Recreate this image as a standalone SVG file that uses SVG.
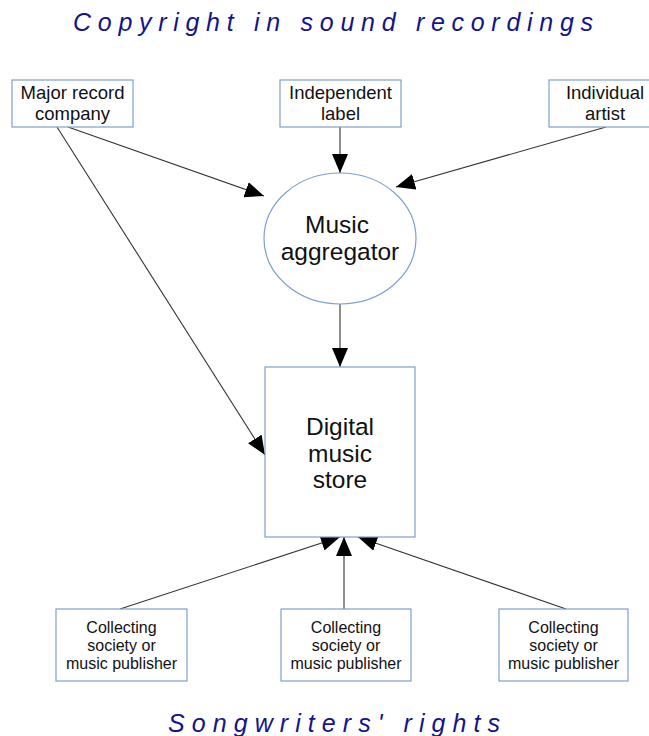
<svg xmlns="http://www.w3.org/2000/svg" width="649" height="736" viewBox="0 0 649 736">
<defs>
<marker id="ah" markerWidth="20" markerHeight="16" refX="19" refY="8" orient="auto" markerUnits="userSpaceOnUse">
<path d="M0,0 L19,8 L0,16 Z" fill="#000"/>
</marker>
<style>
.box{fill:#fff;stroke:#7f9fcf;stroke-width:1.2}
.t{font-family:"Liberation Sans",Arial,sans-serif;fill:#111;text-anchor:middle}
.big{font-size:24.5px}
.mid{font-size:18.5px}
.sm{font-size:16px}
.title{font-family:"Liberation Sans",Arial,sans-serif;font-style:italic;font-size:25px;fill:#14148a}
.c{stroke:#333;stroke-width:1.1;fill:none;marker-end:url(#ah)}
</style>
</defs>
<rect width="649" height="736" fill="#fff"/>
<text class="title" x="73" y="31" textLength="520" lengthAdjust="spacing">Copyright in sound recordings</text>
<text class="title" x="168" y="732" textLength="332" lengthAdjust="spacing">Songwriters' rights</text>

<g id="connectors">
<line class="c" x1="68" y1="127" x2="264" y2="196"/>
<line class="c" x1="57" y1="127" x2="265" y2="455"/>
<line class="c" x1="340" y1="127" x2="340" y2="173"/>
<line class="c" x1="606" y1="127" x2="396" y2="187"/>
<line class="c" x1="340" y1="304" x2="340" y2="367"/>
<line class="c" x1="120" y1="609" x2="340" y2="537"/>
<line class="c" x1="344" y1="609" x2="344" y2="537"/>
<line class="c" x1="566" y1="609" x2="358" y2="537"/>
</g>

<g id="major">
<rect class="box" x="12" y="80" width="121" height="47"/>
<text class="t mid" x="72.5" y="99">Major record</text>
<text class="t mid" x="72.5" y="120">company</text>
</g>
<g id="independent">
<rect class="box" x="280" y="80" width="121" height="47"/>
<text class="t mid" x="340.5" y="99">Independent</text>
<text class="t mid" x="340.5" y="120">label</text>
</g>
<g id="artist">
<rect class="box" x="549" y="80" width="121" height="47"/>
<text class="t mid" x="605" y="99">Individual</text>
<text class="t mid" x="605" y="120">artist</text>
</g>
<g id="aggregator">
<ellipse class="box" cx="340" cy="238.5" rx="76" ry="65.5"/>
<text class="t big" x="337" y="233">Music</text>
<text class="t big" x="340" y="260">aggregator</text>
</g>
<g id="store">
<rect class="box" x="265" y="367" width="150" height="170"/>
<text class="t big" x="340" y="435">Digital</text>
<text class="t big" x="340" y="462">music</text>
<text class="t big" x="340" y="488">store</text>
</g>
<g id="society1">
<rect class="box" x="56" y="609" width="131" height="72"/>
<text class="t sm" x="121.5" y="633">Collecting</text>
<text class="t sm" x="121.5" y="651">society or</text>
<text class="t sm" x="121.5" y="669">music publisher</text>
</g>
<g id="society2">
<rect class="box" x="281" y="609" width="130" height="72"/>
<text class="t sm" x="346" y="633">Collecting</text>
<text class="t sm" x="346" y="651">society or</text>
<text class="t sm" x="346" y="669">music publisher</text>
</g>
<g id="society3">
<rect class="box" x="499" y="609" width="129" height="72"/>
<text class="t sm" x="563.5" y="633">Collecting</text>
<text class="t sm" x="563.5" y="651">society or</text>
<text class="t sm" x="563.5" y="669">music publisher</text>
</g>
</svg>
